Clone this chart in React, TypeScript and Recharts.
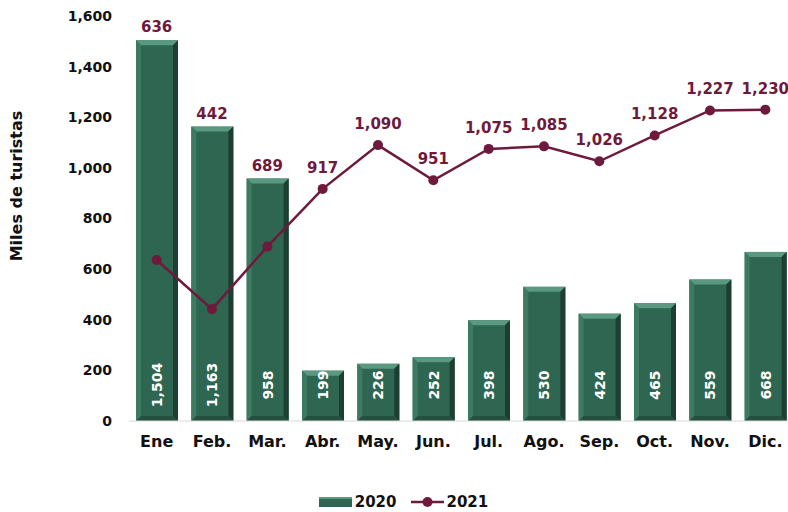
import { ComposedChart, Bar, Line, XAxis, YAxis, Legend, LabelList } from "recharts";

const months = ["Ene", "Feb.", "Mar.", "Abr.", "May.", "Jun.", "Jul.", "Ago.", "Sep.", "Oct.", "Nov.", "Dic."];
const tourists2020 = [1504, 1163, 958, 199, 226, 252, 398, 530, 424, 465, 559, 668];
const tourists2021 = [636, 442, 689, 917, 1090, 951, 1075, 1085, 1026, 1128, 1227, 1230];
const yTicks = [0, 200, 400, 600, 800, 1000, 1200, 1400, 1600];

const GREEN = "#2f6651";
const MAROON = "#6e1a3d";
const FONT = "'DejaVu Sans', sans-serif";

const data = months.map((m, i) => ({
  month: m,
  y2020: tourists2020[i],
  y2021: tourists2021[i],
  top: Math.max(tourists2020[i], tourists2021[i]),
}));

const fmt = (v: number) => v.toLocaleString("en-US");

// bevelled bar like the original
function BevelBar(props: any) {
  const { x, y, width, height } = props;
  if (!height || height <= 0) return null;
  const b = 5;
  return (
    <g>
      <rect x={x} y={y} width={width} height={height} fill={GREEN} />
      <polygon points={`${x},${y} ${x + width},${y} ${x + width - b},${y + b} ${x + b},${y + b}`} fill="#5a9880" />
      <polygon points={`${x + width},${y} ${x + width},${y + height} ${x + width - b},${y + height - b} ${x + width - b},${y + b}`} fill="#1c3f31" />
      <polygon points={`${x},${y} ${x + b},${y + b} ${x + b},${y + height - b} ${x},${y + height}`} fill="#3c7a61" />
      <polygon points={`${x},${y + height} ${x + b},${y + height - b} ${x + width - b},${y + height - b} ${x + width},${y + height}`} fill="#24503f" />
    </g>
  );
}

function BarValue(props: any) {
  const { x, y, width, height, value } = props;
  const cx = x + width / 2;
  const cy = y + height - 36;
  return (
    <text x={cx} y={cy} transform={`rotate(-90 ${cx} ${cy})`} textAnchor="middle" dominantBaseline="central"
      fill="#fff" fontSize={14} fontWeight={700} fontFamily={FONT}>
      {fmt(value)}
    </text>
  );
}

function TopValue(props: any) {
  const { x, y, value, index } = props;
  const overBar = tourists2020[index] >= tourists2021[index];
  return (
    <text x={x} y={y - (overBar ? 13 : 21)} textAnchor="middle" dominantBaseline="central"
      fill={MAROON} fontSize={15} fontWeight={700} fontFamily={FONT}>
      {fmt(value)}
    </text>
  );
}

function LegendBox() {
  return (
    <div style={{ display: "flex", justifyContent: "center", alignItems: "center", height: 20, fontFamily: FONT, fontWeight: 700, fontSize: 15, color: "#111", paddingLeft: 14 }}>
      <svg width={33} height={10} style={{ marginRight: 3 }}>
        <rect x={0} y={0} width={33} height={10} fill={GREEN} />
        <rect x={0} y={0} width={33} height={2} fill="#5a9880" />
      </svg>
      <span style={{ marginRight: 14 }}>2020</span>
      <svg width={33} height={12} style={{ marginRight: 3 }}>
        <line x1={0} y1={6} x2={33} y2={6} stroke={MAROON} strokeWidth={2.5} />
        <circle cx={16.5} cy={6} r={5} fill={MAROON} />
      </svg>
      <span>2021</span>
    </div>
  );
}

export default function App() {
  return (
    <div style={{ position: "absolute", left: 0, top: 0, width: 788, height: 512, overflow: "hidden", background: "#fff" }}>
      <ComposedChart width={793} height={512} data={data} margin={{ top: 16, right: 0, bottom: 0, left: 0 }}>
        <XAxis dataKey="month" tickLine={false} axisLine={{ stroke: "#d9d9d9" }} height={71} tickMargin={9}
          tick={{ fill: "#111", fontSize: 16, fontWeight: 700, fontFamily: FONT }} interval={0} />
        <YAxis domain={[0, 1600]} ticks={yTicks} width={129} tickLine={false} axisLine={false} tickMargin={11}
          tickFormatter={fmt} tick={{ fill: "#111", fontSize: 14, fontWeight: 700, fontFamily: FONT }}
          label={{
            content: () => (
              <text x={16} y={186} transform="rotate(-90 16 186)" textAnchor="middle" dominantBaseline="central"
                fill="#111" fontSize={16} fontWeight={700} fontFamily={FONT}>
                Miles de turistas
              </text>
            ),
          }} />
        <Legend verticalAlign="bottom" height={20} content={() => <LegendBox />} />
        <Bar dataKey="y2020" name="2020" barSize={42} shape={<BevelBar />} isAnimationActive={false}>
          <LabelList dataKey="y2020" content={<BarValue />} />
        </Bar>
        <Line dataKey="y2021" name="2021" stroke={MAROON} strokeWidth={2.5} dot={{ r: 5, fill: MAROON, stroke: MAROON, strokeWidth: 0 }}
          activeDot={false} isAnimationActive={false} />
        <Line dataKey="top" stroke="none" dot={false} activeDot={false} legendType="none" isAnimationActive={false}>
          <LabelList dataKey="y2021" content={<TopValue />} />
        </Line>
      </ComposedChart>
    </div>
  );
}
